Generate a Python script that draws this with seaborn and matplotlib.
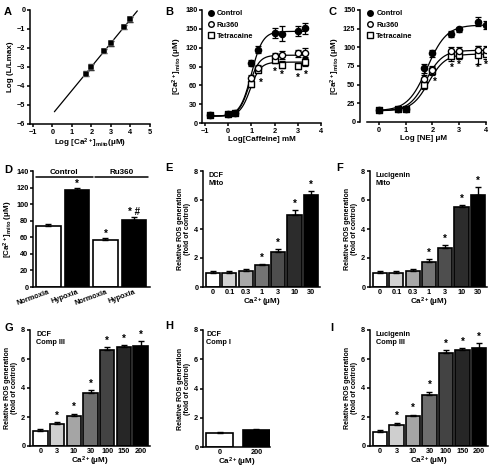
import numpy as np
import pandas as pd
import seaborn as sns
import matplotlib.pyplot as plt
from matplotlib.lines import Line2D

sns.set_style('ticks')
plt.rcParams['font.family'] = ['Liberation Sans', 'DejaVu Sans']
plt.rcParams['font.weight'] = 'bold'
plt.rcParams['axes.labelweight'] = 'bold'
plt.rcParams['mathtext.default'] = 'regular'
plt.rcParams['axes.edgecolor'] = 'black'
plt.rcParams['text.color'] = 'black'
plt.rcParams['axes.labelcolor'] = 'black'
plt.rcParams['xtick.color'] = 'black'
plt.rcParams['ytick.color'] = 'black'
plt.rcParams['axes.linewidth'] = 1.1
plt.rcParams['xtick.major.width'] = 1.1
plt.rcParams['ytick.major.width'] = 1.1
plt.rcParams['xtick.major.size'] = 2.2
plt.rcParams['ytick.major.size'] = 2.2
plt.rcParams['xtick.major.pad'] = 1.2
plt.rcParams['ytick.major.pad'] = 1.2
plt.rcParams['xtick.labelsize'] = 5.3
plt.rcParams['ytick.labelsize'] = 5.3
plt.rcParams['axes.labelsize'] = 5.8

#%% data
# A: log luminescence vs log mito Ca
a_x = [1.7, 2.0, 2.65, 3.0, 3.65, 4.0]
a_y = [-3.35, -3.0, -2.15, -1.75, -0.9, -0.5]
a_err = [0.15, 0.15, 0.12, 0.12, 0.12, 0.12]
a_fit_range = [0.1, 4.35]

# B: caffeine
caf_x = [-0.8, 0, 0.3, 1, 1.3, 2, 2.3, 3, 3.3]
caf_ctrl = [13, 14, 16, 96, 117, 144, 142, 147, 151]
caf_ctrl_err = [1, 1, 1, 5, 5, 8, 12, 8, 9]
caf_ru_x = [1, 1.3, 2, 2.3, 3, 3.3]
caf_ru = [72, 88, 106, 108, 111, 112]
caf_ru_err = [5, 5, 6, 6, 6, 7]
caf_tet = [13, 14, 16, 62, 85, 100, 93, 91, 97]
caf_tet_err = [1, 1, 1, 5, 4, 5, 5, 5, 6]
# sigmoid fit (bottom, top, logEC50, hill)
caf_fit_ctrl = (11, 146, 1.0, 1.8)
caf_fit_ru = (11, 108, 0.9, 2.0)
caf_fit_tet = (11, 97, 0.95, 2.0)
caf_star_x = [1.42, 2.02, 2.32, 3.0, 3.35]
caf_star_y = [64, 82, 76, 72, 77]

# C: norepinephrine
ne_x = [0, 0.7, 1, 1.7, 2, 2.7, 3, 3.7, 4]
ne_ctrl = [16, 17, 18, 72, 92, 118, 124, 134, 130]
ne_ctrl_err = [1, 1, 1, 6, 5, 4, 3, 6, 5]
ne_ru_x = [1.7, 2, 2.7, 3, 3.7, 4]
ne_ru = [58, 70, 95, 95, 97, 97]
ne_ru_err = [5, 5, 5, 5, 5, 5]
ne_tet = [16, 17, 18, 50, 68, 88, 90, 90, 91]
ne_tet_err = [1, 1, 1, 6, 5, 6, 5, 12, 6]
ne_fit_ctrl = (15, 130, 1.8, 1.2)
ne_fit_ru = (15, 96, 1.75, 1.4)
ne_fit_tet = (15, 91, 1.85, 1.4)
ne_star_x = [2.08, 2.72, 3.0, 3.7, 4.0]
ne_star_y = [54, 73, 77, 73, 77]

# D: hypoxia
d_ids = ['c_n', 'c_h', 'r_n', 'r_h']
d_labels = ['Normoxia', 'Hypoxia', 'Normoxia', 'Hypoxia']
d_vals = [74, 117, 57, 81]
d_err = [1.5, 2, 2.5, 4]
d_colors = ['white', 'black', 'white', 'black']
d_marks = ['', '*', '*', '* #']

# E-I: ROS
mito_ca = ['0', '0.1', '0.3', '1', '3', '10', '30']
e_vals = [1.0, 1.0, 1.1, 1.5, 2.4, 5.0, 6.35]
e_err = [0.12, 0.1, 0.15, 0.08, 0.2, 0.3, 0.25]
f_vals = [1.0, 1.0, 1.1, 1.7, 2.7, 5.5, 6.35]
f_err = [0.1, 0.1, 0.15, 0.2, 0.2, 0.15, 0.55]
mito_marks = ['', '', '', '*', '*', '*', '*']
mito_colors = ['white', '#d2d2d2', '#a8a8a8', '#747474', '#4e4e4e', '#2c2c2c', '#000000']

comp_ca = ['0', '3', '10', '30', '100', '150', '200']
g_vals = [1.05, 1.5, 2.1, 3.65, 6.6, 6.8, 6.9]
g_err = [0.12, 0.15, 0.12, 0.2, 0.2, 0.15, 0.35]
i_vals = [1.0, 1.45, 2.05, 3.55, 6.4, 6.6, 6.75]
i_err = [0.1, 0.15, 0.12, 0.2, 0.2, 0.15, 0.35]
comp_marks = ['', '*', '*', '*', '*', '*', '*']
comp_colors = ['white', '#cfcfcf', '#a5a5a5', '#6e6e6e', '#434343', '#262626', '#000000']

h_ca = ['0', '200']
h_vals = [0.95, 1.15]
h_err = [0.08, 0.07]
h_colors = ['white', 'black']

W, H = 490, 470


def box(l, r, t, b):
    return [l / W, 1 - b / H, (r - l) / W, (b - t) / H]


def sigmoid(x, p):
    bottom, top, ec50, hill = p
    return bottom + (top - bottom) / (1 + 10 ** ((ec50 - x) * hill))


def style(ax):
    sns.despine(ax=ax)
    for s in ['left', 'bottom']:
        ax.spines[s].set_linewidth(1.1)


def points(ax, x, y, err, marker, face):
    ax.errorbar(x, y, yerr=err, fmt='none', ecolor='black', elinewidth=0.9,
                capsize=2, capthick=0.9, zorder=3)
    sns.scatterplot(x=x, y=y, ax=ax, marker=marker, color=face, edgecolor='black',
                    linewidth=1.0, s=20, zorder=4, legend=False)


def curve(ax, lo, hi, p):
    xs = np.linspace(lo, hi, 200)
    sns.lineplot(x=xs, y=sigmoid(xs, p), ax=ax, color='black', lw=0.9, zorder=2)


def bars(ax, cats, vals, errs, colors, marks, width, star_off, fs=7):
    df = pd.DataFrame({'cat': cats, 'val': vals})
    sns.barplot(data=df, x='cat', y='val', hue='cat', order=cats, hue_order=cats,
                palette=colors, saturation=1, edgecolor='black', linewidth=1.2,
                width=width, legend=False, errorbar=None, ax=ax)
    pos = np.arange(len(cats))
    ax.errorbar(pos, vals, yerr=[np.zeros(len(vals)), errs], fmt='none',
                ecolor='black', elinewidth=1.0, capsize=2.2, capthick=1.0, zorder=5)
    for p, v, e, m in zip(pos, vals, errs, marks):
        if m:
            ax.text(p, v + e + star_off, m, ha='center', va='center', fontsize=fs)
    ax.tick_params(axis='x', length=0)
    ax.set_xlabel('')


fig = plt.figure(figsize=(W / 100, H / 100), dpi=100)

#%% A
ax = fig.add_axes(box(30, 150, 10, 124))
fit = np.polyfit(a_x, a_y, 1)
xs = np.linspace(a_fit_range[0], a_fit_range[1], 50)
sns.lineplot(x=xs, y=np.polyval(fit, xs), ax=ax, color='black', lw=0.9)
ax.errorbar(a_x, a_y, yerr=a_err, fmt='none', ecolor='black', elinewidth=0.9, capsize=2)
sns.scatterplot(x=a_x, y=a_y, ax=ax, marker='s', color='black', s=16, zorder=4)
ax.set_xlim(-1.15, 5.0)
ax.set_ylim(-6.0, 0.0)
ax.set_xticks(range(-1, 6))
ax.set_yticks(range(-6, 1))
ax.set_xlabel(r'Log [Ca$^{2+}$]$_{mito}$(μM)', labelpad=1)
ax.set_ylabel('Log (L/Lmax)', labelpad=2)
style(ax)

#%% B
ax = fig.add_axes(box(202, 321, 10, 123))
for p in [caf_fit_ctrl, caf_fit_ru, caf_fit_tet]:
    curve(ax, -0.8, 3.3, p)
points(ax, caf_x, caf_tet, caf_tet_err, 's', 'white')
points(ax, caf_ru_x, caf_ru, caf_ru_err, 'o', 'white')
points(ax, caf_x, caf_ctrl, caf_ctrl_err, 'o', 'black')
for x, y in zip(caf_star_x, caf_star_y):
    ax.text(x, y, '*', ha='center', va='center', fontsize=7)
ax.set_xlim(-1.13, 4.0)
ax.set_ylim(0, 180)
ax.set_xticks(range(-1, 5))
ax.set_yticks(range(0, 181, 30))
ax.set_xlabel('Log[Caffeine] mM', labelpad=1)
ax.set_ylabel(r'[Ca$^{2+}$]$_{mito}$ (μM)', labelpad=1)
style(ax)
handles = [Line2D([], [], ls='none', marker='o', mfc='black', mec='black', ms=4, mew=1),
           Line2D([], [], ls='none', marker='o', mfc='white', mec='black', ms=4, mew=1),
           Line2D([], [], ls='none', marker='s', mfc='white', mec='black', ms=4, mew=1)]
ax.legend(handles, ['Control', 'Ru360', 'Tetracaine'], loc='upper left',
          bbox_to_anchor=(0.02, 1.03), frameon=False, fontsize=5.3, handlelength=0.8,
          handletextpad=0.4, labelspacing=0.55, borderpad=0)

#%% C
ax = fig.add_axes(box(360, 486, 10, 122))
for p in [ne_fit_ctrl, ne_fit_ru, ne_fit_tet]:
    curve(ax, 0, 4, p)
points(ax, ne_x, ne_tet, ne_tet_err, 's', 'white')
points(ax, ne_ru_x, ne_ru, ne_ru_err, 'o', 'white')
points(ax, ne_x, ne_ctrl, ne_ctrl_err, 'o', 'black')
for x, y in zip(ne_star_x, ne_star_y):
    ax.text(x, y, '*', ha='center', va='center', fontsize=7)
ax.set_xlim(-0.71, 4.0)
ax.set_ylim(0, 150)
ax.set_xticks(range(0, 5))
ax.set_yticks(range(0, 151, 25))
ax.set_xlabel('Log [NE] μM', labelpad=1)
ax.set_ylabel(r'[Ca$^{2+}$]$_{mito}$ (μM)', labelpad=1)
style(ax)
ax.spines['bottom'].set_bounds(-0.45, 4.0)
ax.legend(handles, ['Control', 'Ru360', 'Tetracaine'], loc='upper left',
          bbox_to_anchor=(0.03, 1.03), frameon=False, fontsize=5.3, handlelength=0.8,
          handletextpad=0.4, labelspacing=0.55, borderpad=0)

#%% D
ax = fig.add_axes(box(33, 150, 171, 287))
bars(ax, d_ids, d_vals, d_err, d_colors, d_marks, 0.85, 5, fs=7)
ax.set_xlim(-0.54, 3.56)
ax.set_ylim(0, 140)
ax.set_yticks(range(0, 141, 20))
ax.set_xticks(range(4))
ax.set_xticklabels(d_labels, rotation=20, ha='right', rotation_mode='anchor')
ax.set_ylabel(r'[Ca$^{2+}$]$_{mito}$ (μM)', labelpad=1)
ax.plot([-0.44, 1.56], [132.5, 132.5], color='black', lw=1.1, clip_on=False)
ax.plot([1.63, 3.49], [132.5, 132.5], color='black', lw=1.1, clip_on=False)
ax.text(0.56, 134.5, 'Control', ha='center', va='bottom', fontsize=5.8)
ax.text(2.56, 134.5, 'Ru360', ha='center', va='bottom', fontsize=5.8)
style(ax)

ros_label = 'Relative ROS generation\n(fold of control)'
mito_width = 0.87


def ros_axes(rect, cats, vals, errs, colors, marks, width, note, xlim):
    ax = fig.add_axes(rect)
    bars(ax, cats, vals, errs, colors, marks, width, 0.45)
    ax.set_xlim(*xlim)
    ax.set_ylim(0, 8)
    ax.set_yticks(range(0, 9, 2))
    ax.set_xlabel(r'Ca$^{2+}$(μM)', labelpad=0)
    ax.set_ylabel(ros_label, fontsize=5.0, labelpad=2, linespacing=1.0)
    ax.text(0.05, 0.99, note, transform=ax.transAxes, ha='left', va='top',
            fontsize=5.3, linespacing=1.25)
    style(ax)
    return ax


ros_axes(box(203, 320, 171, 287), mito_ca, e_vals, e_err, mito_colors, mito_marks,
         mito_width, 'DCF\nMito', (-0.62, 6.56))
ros_axes(box(370, 487, 171, 287), mito_ca, f_vals, f_err, mito_colors, mito_marks,
         mito_width, 'Lucigenin\nMito', (-0.62, 6.56))
ros_axes(box(30, 150, 330, 446), comp_ca, g_vals, g_err, comp_colors, comp_marks,
         mito_width, 'DCF\nComp III', (-0.62, 6.56))
ros_axes(box(203, 270, 330, 447), h_ca, h_vals, h_err, h_colors, ['', ''],
         0.73, 'DCF\nComp I', (-0.45, 1.37))
ros_axes(box(370, 488, 330, 446), comp_ca, i_vals, i_err, comp_colors, comp_marks,
         mito_width, 'Lucigenin\nComp III', (-0.62, 6.56))

#%% panel letters
for letter, x, y in [('A', 4, 12), ('B', 165, 12), ('C', 328, 12),
                     ('D', 4, 170), ('E', 165, 168), ('F', 336, 168),
                     ('G', 4, 328), ('H', 165, 326), ('I', 330, 328)]:
    fig.text(x / W, 1 - y / H, letter, fontsize=8, fontweight='bold', va='center', ha='left')

fig.savefig('out.png', dpi=100)
